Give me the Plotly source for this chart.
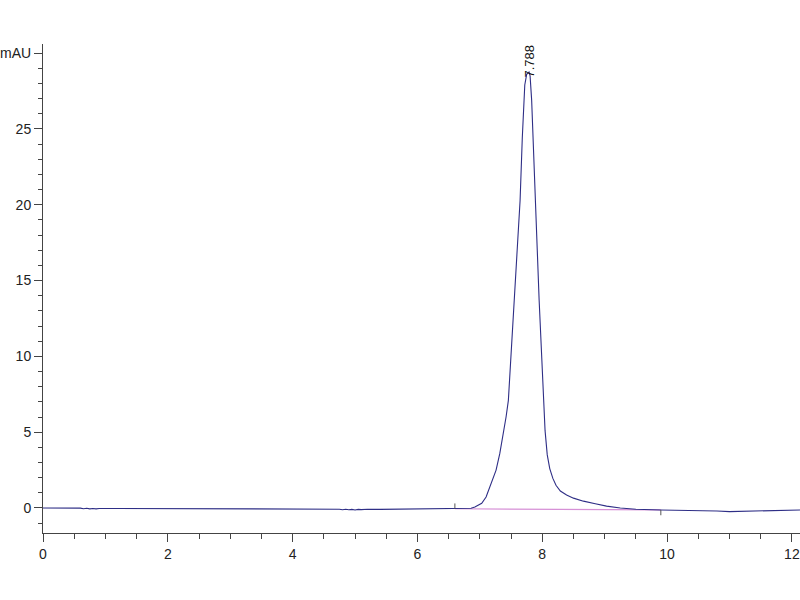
import plotly.graph_objects as go

# Retention time (min) and detector signal (mAU)
time_min = [0.0, 0.3, 0.6, 0.65, 0.7, 0.75, 0.8, 0.85, 0.9, 1.2, 1.8, 2.4, 2.6, 2.65, 2.7, 2.75, 2.8, 3.0,
            3.5, 4.0, 4.5, 4.75, 4.8, 4.85, 4.9, 4.95, 5.0, 5.05, 5.1, 5.2, 5.4, 5.8, 6.2, 6.6, 6.8,
            6.86, 6.92, 6.97, 7.03, 7.1, 7.16, 7.21, 7.26, 7.32, 7.38, 7.42, 7.457, 7.5, 7.553, 7.6, 7.645,
            7.68, 7.70, 7.72, 7.75, 7.788, 7.805, 7.82, 7.83, 7.85, 7.885, 7.92, 7.95, 7.985, 8.02, 8.045,
            8.08, 8.12, 8.17, 8.22, 8.29, 8.39, 8.5, 8.66, 8.85, 9.03, 9.25, 9.5, 9.9, 10.5, 10.8, 11.0,
            11.2, 11.5, 12.13]
signal_mau = [0.0, 0.0, -0.01, -0.05, -0.02, -0.06, -0.03, -0.06, -0.03, -0.03, -0.03, -0.04, -0.04, -0.07, -0.04, -0.07, -0.05, -0.05,
              -0.05, -0.06, -0.06, -0.08, -0.12, -0.08, -0.12, -0.09, -0.13, -0.09, -0.11, -0.08, -0.09, -0.08, -0.07, -0.06, -0.05,
              -0.02, 0.06, 0.15, 0.31, 0.72, 1.35, 1.9, 2.5, 3.6, 5.0, 6.0, 7.1, 10.0, 13.7, 17.3, 20.3,
              24.4, 26.6, 27.9, 28.6, 28.75, 28.5, 27.6, 26.9, 24.7, 20.3, 17.0, 13.7, 10.3, 7.1, 5.1,
              3.5, 2.6, 1.95, 1.5, 1.12, 0.86, 0.65, 0.45, 0.28, 0.12, 0.0, -0.08, -0.13, -0.16, -0.2, -0.24,
              -0.22, -0.18, -0.13]

# Integration baseline (start / end of the peak)
baseline_time = [6.6, 9.9]
baseline_signal = [-0.05, -0.13]
peak_label_time = 7.788
peak_label_height = 28.75
peak_label = "7.788"

# Axis ticks
x_ticks = [0, 2, 4, 6, 8, 10, 12]
y_ticks = [0, 5, 10, 15, 20, 25, 30]
y_tick_text = ["0", "5", "10", "15", "20", "25", "mAU"]

fig = go.Figure()
fig.add_trace(go.Scatter(x=baseline_time, y=baseline_signal, mode="lines",
                         line=dict(color="#d690d6", width=1.2), hoverinfo="skip"))
fig.add_trace(go.Scatter(x=time_min, y=signal_mau, mode="lines",
                         line=dict(color="#2e2e86", width=1.1)))
# small start / end markers of the baseline
fig.add_trace(go.Scatter(x=[baseline_time[0], baseline_time[0]], y=[baseline_signal[0], baseline_signal[0] + 0.35],
                         mode="lines", line=dict(color="#555555", width=1)))
fig.add_trace(go.Scatter(x=[baseline_time[1], baseline_time[1]], y=[baseline_signal[1], baseline_signal[1] - 0.35],
                         mode="lines", line=dict(color="#555555", width=1)))

fig.add_annotation(x=peak_label_time, y=peak_label_height, text=peak_label, textangle=-90,
                   showarrow=False, xanchor="center", yanchor="bottom", yshift=-8, xshift=1,
                   font=dict(family="Liberation Sans, Arial", size=13, color="#111111"))

axis_font = dict(family="Liberation Sans, Arial", size=14, color="#222222")
fig.update_layout(
    width=800, height=600,
    margin=dict(l=43, r=0, t=44, b=67, autoexpand=False),
    paper_bgcolor="white", plot_bgcolor="white",
    showlegend=False,
    xaxis=dict(range=[0, 12.13], tickmode="array", tickvals=x_ticks, ticks="outside", ticklen=8,
               tickcolor="#444444", showline=True, linecolor="#444444", linewidth=1,
               showgrid=False, zeroline=False, tickfont=axis_font, automargin=False,
               minor=dict(tickmode="linear", tick0=0, dtick=0.5, ticks="outside", ticklen=5,
                          tickcolor="#444444")),
    yaxis=dict(range=[-1.65, 30.6], tickmode="array", tickvals=y_ticks, ticktext=y_tick_text,
               ticks="outside", ticklen=8, tickcolor="#444444", showline=True, linecolor="#444444",
               linewidth=1, showgrid=False, zeroline=False, tickfont=axis_font, automargin=False,
               minor=dict(tickmode="linear", tick0=0, dtick=1, ticks="outside", ticklen=4,
                          tickcolor="#444444")),
)

# remove the page's default 8px body margin so the 800x600 figure fills the window
fig.write_html("out.html", config={"displayModeBar": False},
               post_script="document.body.style.margin='0px';document.body.style.overflow='hidden';")
